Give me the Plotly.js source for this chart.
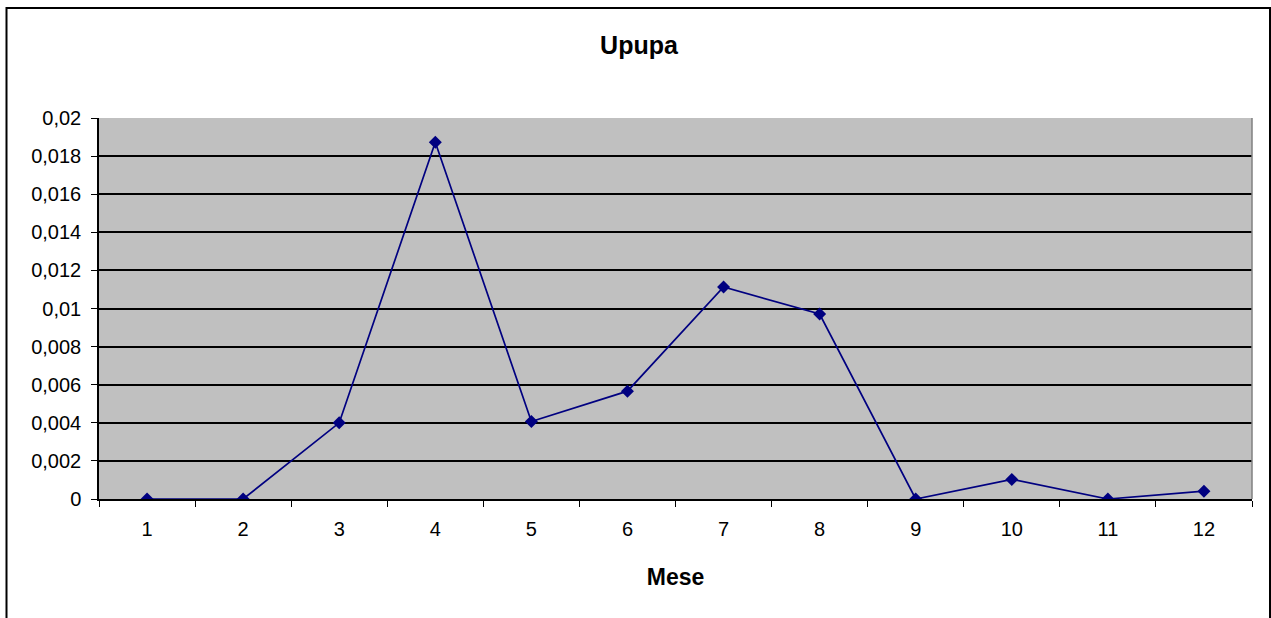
<!DOCTYPE html>
<html>
<head>
<meta charset="utf-8">
<script src="https://cdn.plot.ly/plotly-3.0.1.min.js"></script>
<style>
html,body{margin:0;padding:0;background:#fff;}
#chart{width:1271px;height:618px;}
</style>
</head>
<body>
<div id="chart"></div>
<script>
var months = [1, 2, 3, 4, 5, 6, 7, 8, 9, 10, 11, 12];
var monthLabels = ["1", "2", "3", "4", "5", "6", "7", "8", "9", "10", "11", "12"];
var values = [0, 0, 0.00400, 0.01873, 0.00407, 0.00566, 0.01113, 0.00971, 0, 0.00103, 0, 0.00041];
var yTicks = [0, 0.002, 0.004, 0.006, 0.008, 0.01, 0.012, 0.014, 0.016, 0.018, 0.02];
var yTickText = ["0", "0,002", "0,004", "0,006", "0,008", "0,01", "0,012", "0,014", "0,016", "0,018", "0,02"];
var catEdges = [0.5, 1.5, 2.5, 3.5, 4.5, 5.5, 6.5, 7.5, 8.5, 9.5, 10.5, 11.5, 12.5];

var FONT = "Arial, 'Liberation Sans', sans-serif";

var trace = {
  x: months,
  y: values,
  type: "scatter",
  mode: "lines+markers",
  line: {color: "#000080", width: 1.7},
  marker: {symbol: "diamond", size: 10, color: "#000080"},
  hoverinfo: "x+y",
  showlegend: false
};

var L = 99, R = 1252, T = 118, B = 499;
var pw = R - L, ph = B - T;
function px(x){ return (x - L) / pw; }
function py(y){ return (B - y) / ph; }

var layout = {
  width: 1271,
  height: 618,
  margin: {l: L, r: 1271 - R, t: T, b: 618 - B, pad: 0},
  paper_bgcolor: "#ffffff",
  plot_bgcolor: "#c0c0c0",
  font: {family: FONT, color: "#000000", size: 20},
  title: {
    text: "<b>Upupa</b>",
    font: {family: FONT, size: 25, color: "#000"},
    x: 639 / 1271, xref: "container", xanchor: "center",
    y: 1 - 45 / 618, yref: "container", yanchor: "middle"
  },
  xaxis: {
    range: [0.5, 12.5],
    tickmode: "array",
    tickvals: months,
    ticktext: monthLabels,
    ticks: "",
    ticklabelstandoff: 11,
    showgrid: false,
    zeroline: false,
    showline: true,
    linecolor: "#000",
    linewidth: 1.5,
    tickfont: {family: FONT, size: 20, color: "#000"},
    minor: {tickmode: "array", tickvals: catEdges, ticks: "outside", ticklen: 6, tickwidth: 1.3, tickcolor: "#000", showgrid: false},
    title: {text: "<b>Mese</b>", font: {family: FONT, size: 23, color: "#000"}, standoff: 30},
    automargin: false,
    fixedrange: true
  },
  yaxis: {
    range: [0, 0.02],
    tickmode: "array",
    tickvals: yTicks,
    ticktext: yTickText,
    ticks: "outside",
    ticklen: 6,
    tickwidth: 1.3,
    tickcolor: "#000",
    ticklabelstandoff: 6,
    showgrid: true,
    gridcolor: "#000",
    gridwidth: 1.5,
    zeroline: false,
    showline: true,
    linecolor: "#000",
    linewidth: 1.5,
    tickfont: {family: FONT, size: 20, color: "#000"},
    automargin: false,
    fixedrange: true
  },
  shapes: [
    {type: "line", xref: "paper", yref: "paper", x0: 1, x1: 1, y0: 0, y1: 1, line: {color: "#808080", width: 1.5}, layer: "above"},
    {type: "rect", xref: "paper", yref: "paper", x0: px(6.5), x1: px(1270), y0: py(640), y1: py(8), line: {color: "#000", width: 2}, fillcolor: "rgba(0,0,0,0)", layer: "above"}
  ]
};

Plotly.newPlot("chart", [trace], layout, {displayModeBar: false, staticPlot: false});
</script>
</body>
</html>
